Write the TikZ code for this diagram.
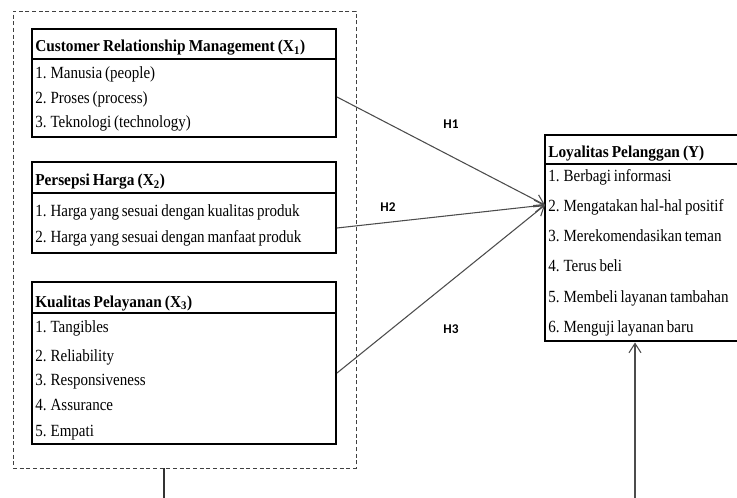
\documentclass[tikz,border=0pt]{standalone}
\usepackage{fontspec}
\newfontfamily\tnrfont[FakeStretch=0.88,WordSpace=0.75]{Liberation Serif}
\newfontfamily\ttlfont[FakeStretch=0.92,WordSpace=0.8]{Liberation Serif}
\newfontfamily\hypfont{Carlito}
\usetikzlibrary{fit,arrows.meta}
\begin{document}
\begin{tikzpicture}[x=0.75pt,y=-0.75pt,
  framebox/.style={draw, line width=2.2pt, inner sep=0pt},
  divider/.style={line width=2.2pt},
  grp/.style={draw=black!75, densely dashed, line width=0.6pt, inner sep=0pt},
  ttl/.style={anchor=base west, inner sep=0pt, font=\ttlfont\bfseries\fontsize{12.5}{14}\selectfont},
  itm/.style={anchor=base west, inner sep=0pt, font=\tnrfont\fontsize{12.8}{14}\selectfont},
  hyp/.style={anchor=base, inner sep=0pt, font=\hypfont\bfseries\fontsize{10}{12}\selectfont},
  conn/.style={draw=black!70, line width=0.8pt, -{Straight Barb[length=7pt,width=9pt,line width=0.8pt]}}]
\useasboundingbox (0,0) rectangle (737,498);
% group
\node[grp, fit={(13,11) (356,468)}] (grp) {};
% X1
\node[framebox, fit={(32,29) (336,137)}] (x1) {};
\draw[divider] (32,59) -- (336,59);
\node[ttl] (x1t) at (35,52) {Customer Relationship Management (X\textsubscript{1})};
\node[itm] (x1a) at (35,79) {1. Manusia (people)};
\node[itm] (x1b) at (35,103.5) {2. Proses (process)};
\node[itm] (x1c) at (35,128) {3. Teknologi (technology)};
% X2
\node[framebox, fit={(32,162) (336,253)}] (x2) {};
\draw[divider] (32,193) -- (336,193);
\node[ttl] (x2t) at (35,186) {Persepsi Harga (X\textsubscript{2})};
\node[itm] (x2a) at (35,217) {1. Harga yang sesuai dengan kualitas produk};
\node[itm] (x2b) at (35,243) {2. Harga yang sesuai dengan manfaat produk};
% X3
\node[framebox, fit={(32,282) (336,444)}] (x3) {};
\draw[divider] (32,313) -- (336,313);
\node[ttl] (x3t) at (35,307) {Kualitas Pelayanan (X\textsubscript{3})};
\node[itm] (x3a) at (35,332) {1. Tangibles};
\node[itm] (x3b) at (35,361) {2. Reliability};
\node[itm] (x3c) at (35,385) {3. Responsiveness};
\node[itm] (x3d) at (35,410) {4. Assurance};
\node[itm] (x3e) at (35,436) {5. Empati};
% Y
\node[framebox, fit={(545,135) (745,341)}] (y) {};
\draw[divider] (545,164) -- (745,164);
\node[ttl] (yt) at (548,158) {Loyalitas Pelanggan (Y)};
\node[itm] (ya) at (548,182) {1. Berbagi informasi};
\node[itm] (yb) at (548,212) {2. Mengatakan hal-hal positif};
\node[itm] (yc) at (548,242) {3. Merekomendasikan teman};
\node[itm] (yd) at (548,272) {4. Terus beli};
\node[itm] (ye) at (548,302) {5. Membeli layanan tambahan};
\node[itm] (yf) at (548,332) {6. Menguji layanan baru};
% connectors
\coordinate (s1) at (337,97);
\coordinate (s2) at (337,228);
\coordinate (s3) at (337,373);
\coordinate (t1) at (545,205);
\coordinate (b1) at (164,468);
\coordinate (b2) at (164,500);
\coordinate (u1) at (635,500);
\draw[conn] (s1) -- (t1);
\draw[conn] (s2) -- (t1);
\draw[conn] (s3) -- (t1);
\draw[draw=black!80, line width=0.8pt] (grp.south -| b1) -- (b2);
\draw[conn] (u1) -- (y.south -| u1);
% labels
\node[hyp] (h1) at (451,129) {H1};
\node[hyp] (h2) at (388,212) {H2};
\node[hyp] (h3) at (451,333) {H3};
\end{tikzpicture}
\end{document}
